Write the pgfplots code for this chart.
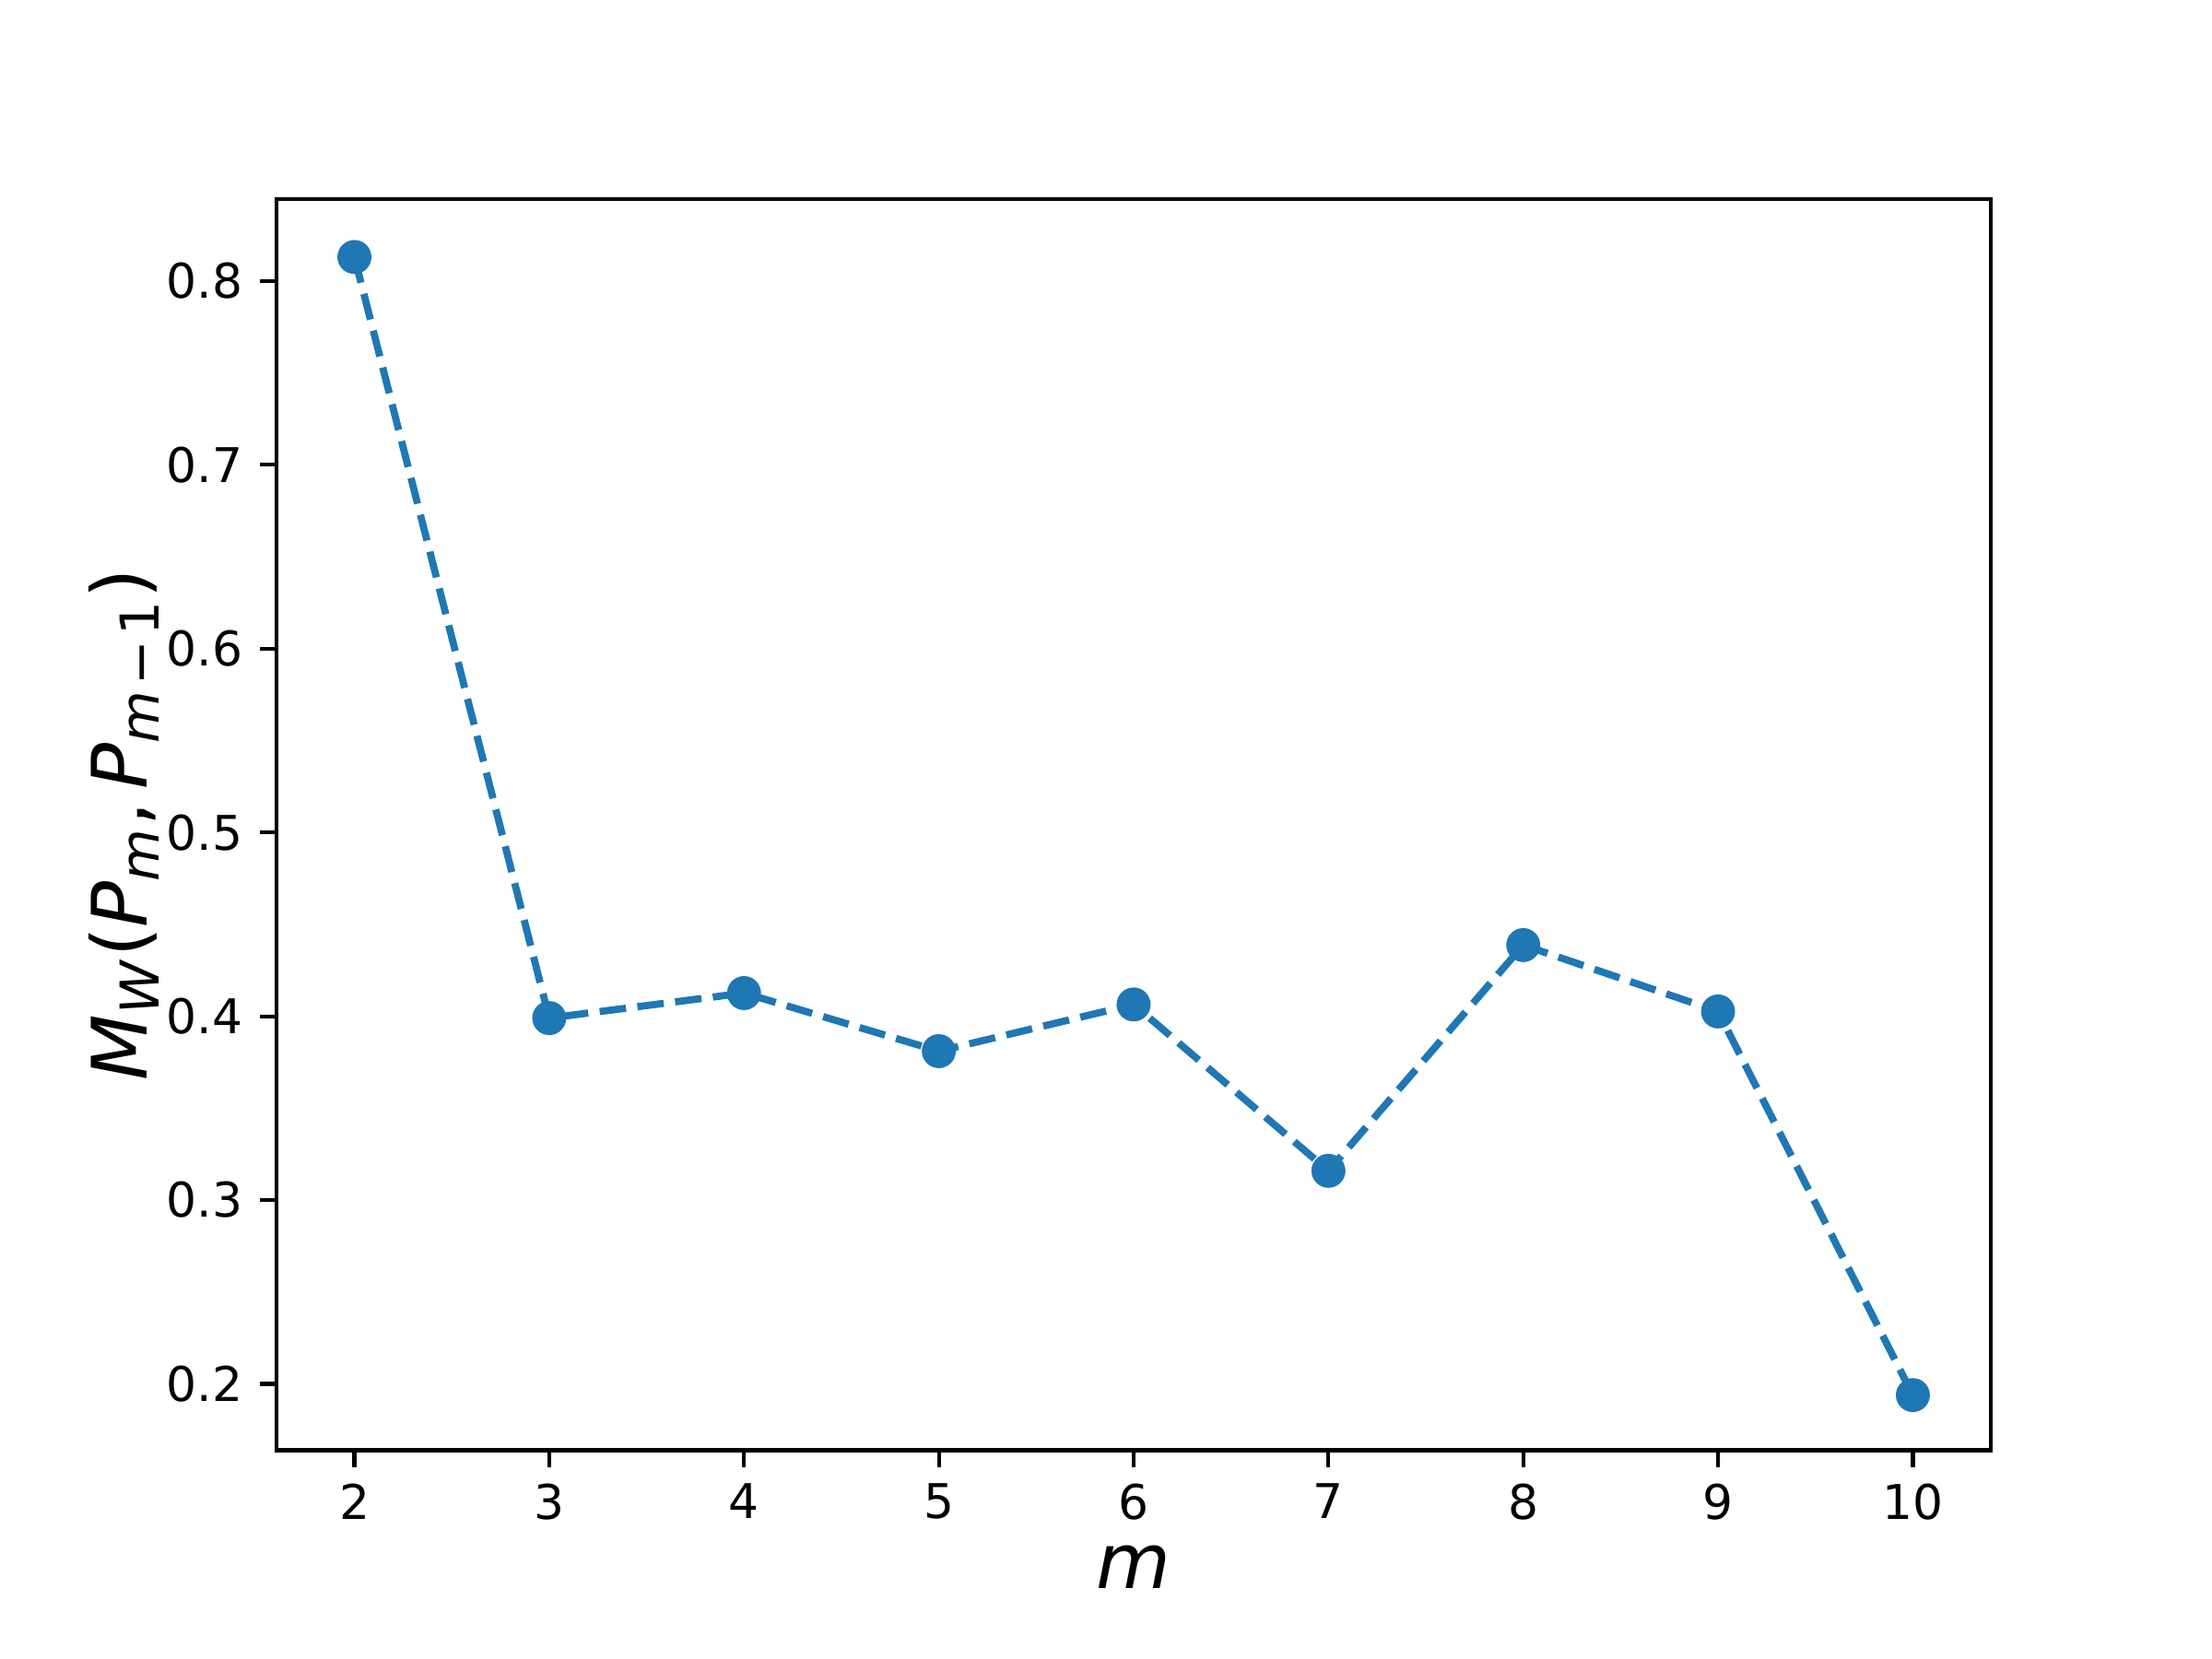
\documentclass[border=0pt]{standalone}
\usepackage{fontspec}
\setmainfont{DejaVu Sans}
\usepackage{pgfplots}
\pgfplotsset{compat=1.18}
\definecolor{tabblue}{HTML}{1F77B4}
\begin{document}
\begin{tikzpicture}
	\useasboundingbox (-0.8in,-0.604in) rectangle (5.6in,4.196in);
	\begin{axis}[
		at={(0,0)}, anchor=south west,
		scale only axis,
		width=4.96in, height=3.62in,
		xmin=1.6, xmax=10.4,
		ymin=0.1639, ymax=0.8445,
		xtick={2,3,4,5,6,7,8,9,10},
		ytick={0.2,0.3,0.4,0.5,0.6,0.7,0.8},
		tick align=outside, tick pos=left,
		major tick length=3.5pt,
		axis line style={line width=0.8pt},
		every tick/.style={black, line width=0.8pt},
		tick label style={font=\fontsize{10}{12}\selectfont},
		/pgf/number format/assume math mode=true,
		yticklabel style={/pgf/number format/.cd, fixed, fixed zerofill, precision=1},
		xlabel={\fontsize{16}{19}\selectfont\itshape m},
		ylabel={\fontsize{16}{19}\selectfont\textit{M}\textsubscript{\textit{W}}(\textit{P}\textsubscript{\textit{m}},\hspace{0.17em}\textit{P}\textsubscript{\textit{m}\hspace{0.1em}−\hspace{0.1em}1})},
		xlabel style={at={(0.5,-0.093)}, anchor=center},
		ylabel style={at={(-0.089,0.5)}, anchor=center},
	]
		\addplot[
		color=tabblue,
		line width=1.5pt,
		dash pattern=on 5.55pt off 2.4pt,
		mark=*,
		mark size=2.8pt,
		mark options={solid, fill=tabblue, draw=none},
		]
		coordinates {
			(2,0.813)(3,0.399)(4,0.4126)(5,0.381)(6,0.4064)(7,0.3159)(8,0.4387)(9,0.4026)(10,0.1939)
		};
	\end{axis}
\end{tikzpicture}
\end{document}
